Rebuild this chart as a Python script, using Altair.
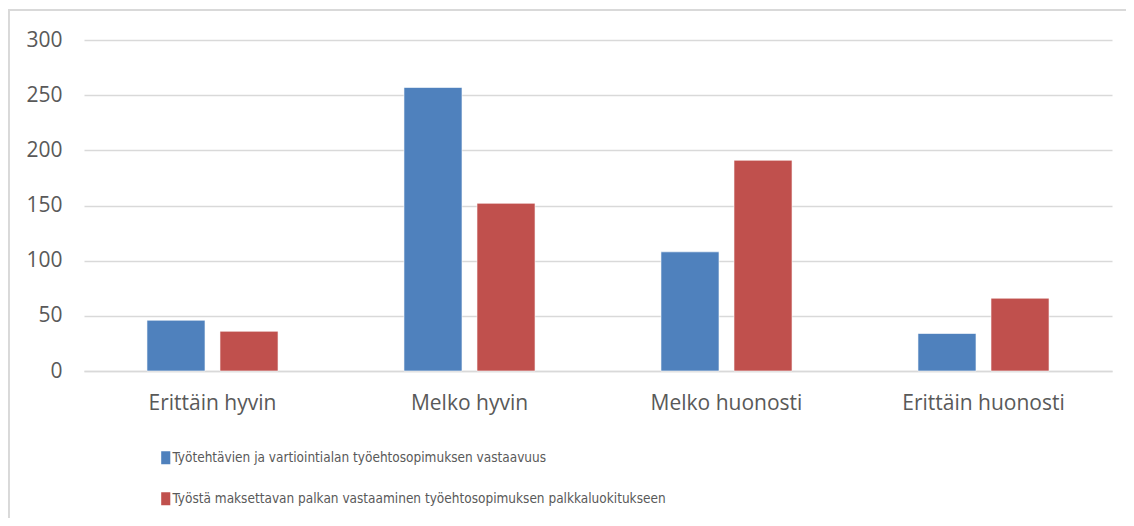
import altair as alt
import pandas as pd

categories = ["Erittäin hyvin", "Melko hyvin", "Melko huonosti", "Erittäin huonosti"]
series = [
    "Työtehtävien ja vartiointialan työehtosopimuksen vastaavuus",
    "Työstä maksettavan palkan vastaaminen työehtosopimuksen palkkaluokitukseen",
]
values_a = [46, 257, 108, 34]
values_b = [36, 152, 191, 66]
colors = ["#4f81bd", "#c0504d"]

rows = []
for c, a, b in zip(categories, values_a, values_b):
    rows.append({"kategoria": c, "sarja": series[0], "arvo": a})
    rows.append({"kategoria": c, "sarja": series[1], "arvo": b})
df = pd.DataFrame(rows)

W, H = 1028, 331
AXFONT = "Open Sans"
LGFONT = "'Liberation Sans Narrow', 'DejaVu Sans Condensed', Lato"

bars = alt.Chart(df).mark_bar(strokeWidth=1, stroke="white", strokeOpacity=0.6).encode(
    x=alt.X("kategoria:N", sort=categories, title=None,
            scale=alt.Scale(paddingInner=0.49, paddingOuter=0.245),
            axis=alt.Axis(labelAngle=0, ticks=False, grid=False, domain=True,
                          domainColor="#d9d9d9", domainWidth=1.5, labelPadding=21,
                          labelFontSize=21, labelColor="#595959", labelFont=AXFONT)),
    xOffset=alt.XOffset("sarja:N", sort=series,
                        scale=alt.Scale(paddingInner=0.205, paddingOuter=0)),
    y=alt.Y("arvo:Q", title=None,
            scale=alt.Scale(domain=[0, 300], nice=False),
            axis=alt.Axis(values=[0, 50, 100, 150, 200, 250, 300], ticks=False, domain=False,
                          gridColor="#d9d9d9", gridWidth=1.5, labelPadding=22,
                          labelFontSize=21, labelColor="#595959", labelFont=AXFONT)),
    color=alt.Color("sarja:N", sort=series,
                    scale=alt.Scale(domain=series, range=colors),
                    legend=alt.Legend(title=None, orient="none", legendX=75, legendY=411,
                                      direction="vertical", rowPadding=26,
                                      symbolType="M-0.7,-1H0.7V1H-0.7Z",
                                      symbolSize=169, symbolStrokeWidth=0,
                                      labelFontSize=13.5, labelColor="#595959",
                                      labelFont=LGFONT, labelOffset=0, labelLimit=800)),
)

frame_top = alt.Chart(df).mark_rule(color="#d9d9d9", strokeWidth=2, clip=False).encode(
    x=alt.value(-76), x2=alt.value(1060), y=alt.value(-30)
)
frame_left = alt.Chart(df).mark_rule(color="#d9d9d9", strokeWidth=2, clip=False).encode(
    x=alt.value(-75.5), y=alt.value(-30), y2=alt.value(500)
)

chart = alt.layer(frame_top, frame_left, bars).properties(
    width=W, height=H,
    background="white",
    autosize=alt.AutoSizeParams(type="none"),
    padding={"left": 76, "top": 32, "right": 14, "bottom": 147},
).configure_view(strokeWidth=0, stroke="transparent")

chart.save("out.html", embed_options={"renderer": "svg", "actions": False})
